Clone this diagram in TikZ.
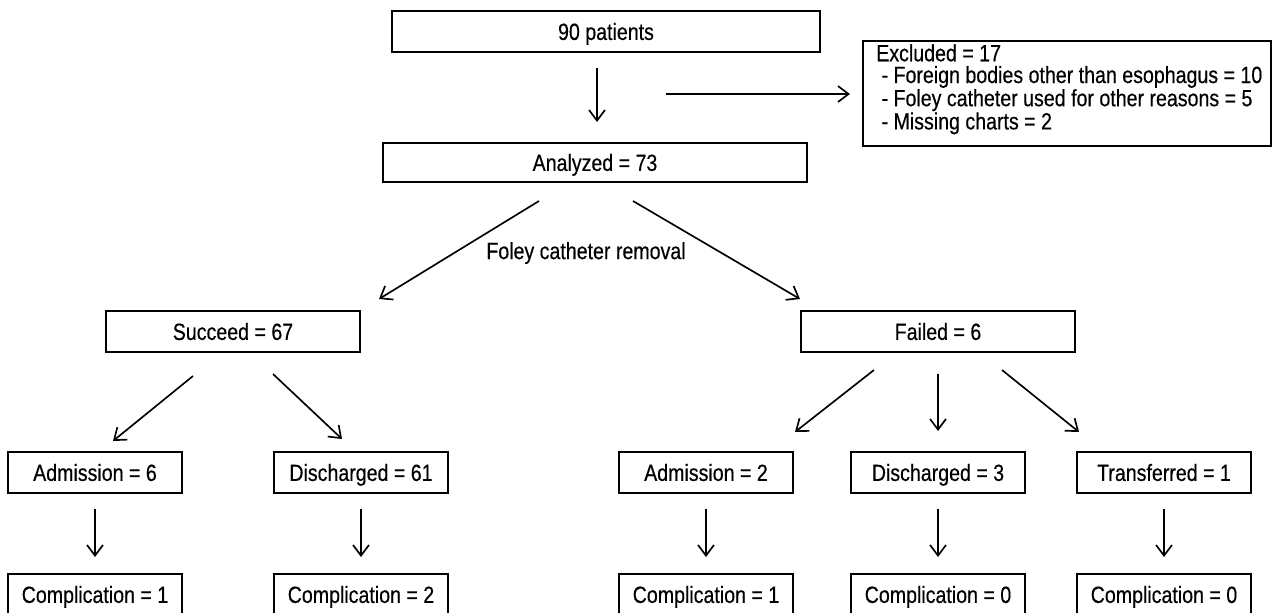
\documentclass[tikz,border=0pt]{standalone}
\usepackage{fontspec}
\setmainfont{Liberation Sans}[FakeStretch=0.835,FakeBold=0.4]
\usetikzlibrary{arrows.meta,calc}
\newcommand{\diagfont}{\fontsize{17.6pt}{16.3pt}\selectfont}
\begin{document}
\begin{tikzpicture}[x=0.75pt,y=-0.75pt,
  box/.style={draw=black, line width=1.5pt, inner sep=0pt, minimum height=30.75pt, font=\diagfont, text height=12.6pt, text depth=0pt},
  rowbox/.style={box, minimum width=130.5pt},
  lbl/.style={inner sep=0pt, font=\diagfont},
  arr/.style={-{Straight Barb[length=8pt,width=12pt]}, line width=1.25pt}]
\useasboundingbox (0,0) rectangle (1278,612);
% boxes
\node[box, minimum width=321pt] (p90) at (606,31.5) {90 patients};
\node[draw=black, line width=1.5pt, inner sep=0pt, minimum width=306pt, minimum height=78.75pt, anchor=north west] (excl) at (862,40) {};
\node[lbl, anchor=north west, align=left] (excltxt) at ($(excl.north west)+(14,4)$)
  {Excluded = 17\\\hspace*{4pt}- Foreign bodies other than esophagus = 10\\\hspace*{4pt}- Foley catheter used for other reasons = 5\\\hspace*{4pt}- Missing charts = 2};
\node[box, minimum width=318pt, minimum height=29.25pt] (anl) at (595,162.5) {Analyzed = 73};
\node[lbl] (foley) at (586,253) {Foley catheter removal};
\node[box, minimum width=190.5pt] (suc) at (233,331.5) {Succeed = 67};
\node[box, minimum width=205.5pt] (fail) at (938,331.5) {Failed = 6};
\node[rowbox] (a6) at (95,472.5) {Admission = 6};
\node[rowbox] (d61) at (361,472.5) {Discharged = 61};
\node[rowbox] (a2) at (706,472.5) {Admission = 2};
\node[rowbox] (d3) at (938,472.5) {Discharged = 3};
\node[rowbox] (t1) at (1164,472.5) {Transferred = 1};
\node[rowbox] (c1) at (95,594.5) {Complication = 1};
\node[rowbox] (c2) at (361,594.5) {Complication = 2};
\node[rowbox] (c1b) at (706,594.5) {Complication = 1};
\node[rowbox] (c0) at (938,594.5) {Complication = 0};
\node[rowbox] (c0b) at (1164,594.5) {Complication = 0};
% connectors
\draw[arr] ($(p90.south)+(-9,15)$) -- ($(anl.north)+(2,-20)$);
\coordinate (exclstart) at (666,94);
\draw[arr, shorten >=9pt] (exclstart) -- (exclstart -| excl.west);
\draw[arr] ($(anl.south)+(-56,18)$) -- ($(suc.north east)+(18,-11)$);
\draw[arr] ($(anl.south)+(38,18)$) -- ($(fail.north west)+(0,-11)$);
\draw[arr] ($(suc.south)+(-40,23)$) -- ($(a6.north)+(18,-10)$);
\draw[arr] ($(suc.south)+(40,21)$) -- ($(d61.north)+(-19,-12)$);
\draw[arr] ($(fail.south)+(-64,17)$) -- ($(a2.north)+(89,-19)$);
\draw[arr, shorten <=15.75pt, shorten >=15pt] (fail) -- (d3);
\draw[arr] ($(fail.south)+(64,17)$) -- ($(t1.north)+(-85,-19)$);
\foreach \a/\b in {a6/c1, d61/c2, a2/c1b, d3/c0, t1/c0b}
  \draw[arr, shorten <=11.25pt, shorten >=12pt] (\a) -- (\b);
\end{tikzpicture}
\end{document}
